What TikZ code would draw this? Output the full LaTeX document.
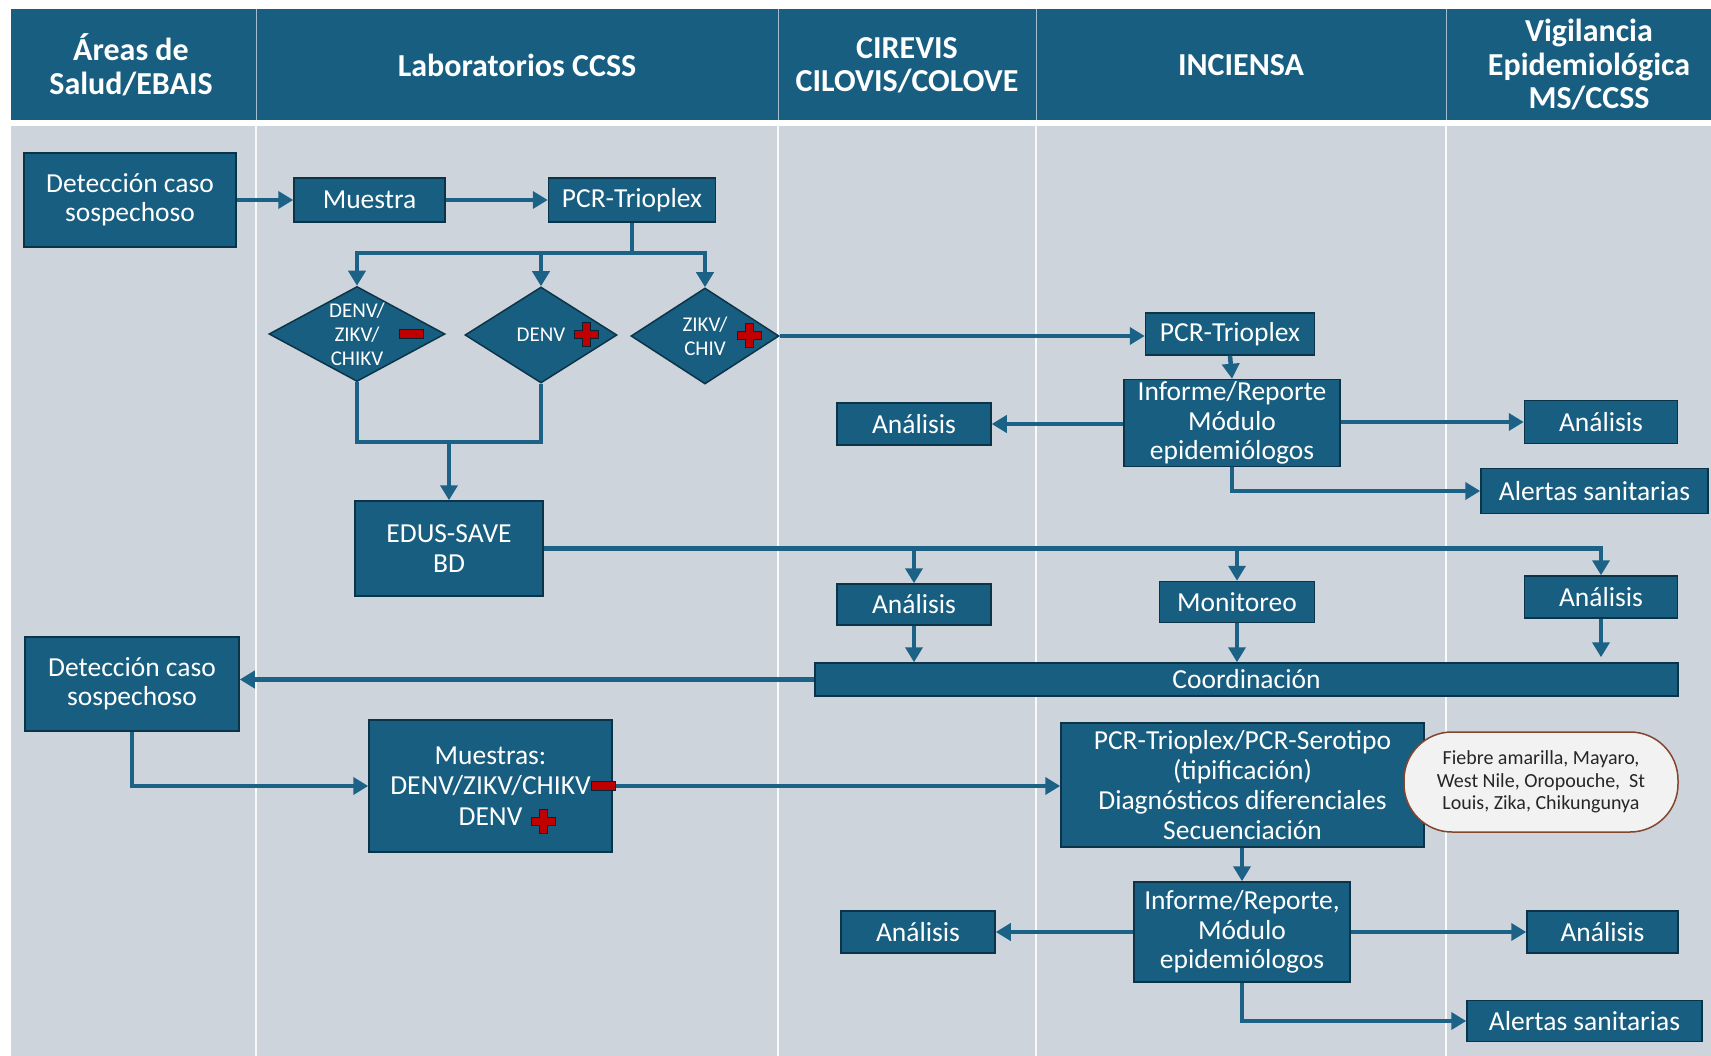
\documentclass[tikz,border=0pt]{standalone}
\usepackage{fontspec}
\setmainfont{Carlito}
\usetikzlibrary{shapes.geometric,arrows.meta}
\definecolor{hdr}{RGB}{23,94,128}
\definecolor{boxc}{RGB}{23,94,128}
\definecolor{bord}{RGB}{12,52,72}
\definecolor{bodyc}{RGB}{206,212,219}
\definecolor{arrc}{RGB}{28,98,134}
\definecolor{redc}{RGB}{192,0,0}
\definecolor{callb}{RGB}{130,70,45}
\begin{document}
\begin{tikzpicture}[x=1pt,y=-1pt,
 box/.style={draw=bord, line width=1.5pt, fill=boxc, text=white, align=center, inner sep=0pt, font=\fontsize{27.5}{29.5}\selectfont},
 hd/.style={text=white, align=center, inner sep=0pt, font=\bfseries\fontsize{32}{33.5}\selectfont},
 ln/.style={draw=arrc, line width=4.5pt},
 arr/.style={ln, -{Triangle[length=15pt,width=17pt]}},
 dia/.style={diamond, draw=bord, line width=1.5pt, fill=boxc, inner sep=0pt},
 dtxt/.style={text=white, align=center, font=\fontsize{21}{24}\selectfont, inner sep=0pt},
 pics/rplus/.style={code={\filldraw[fill=redc, draw=bord!70!black, line width=1pt] (-12,-4)--(-4,-4)--(-4,-12)--(4,-12)--(4,-4)--(12,-4)--(12,4)--(4,4)--(4,12)--(-4,12)--(-4,4)--(-12,4)--cycle;}},
 pics/rminus/.style={code={\filldraw[fill=redc, draw=bord!70!black, line width=1pt] (-12,-4.5) rectangle (12,4.5);}}
]
\useasboundingbox (0,0) rectangle (1711,1056);
\fill[white] (0,0) rectangle (1711,1056);
% header
\fill[hdr] (11,9) rectangle (1711,120);
\foreach \xx in {256,778,1036,1446} \draw[white!60!hdr, line width=1pt] (\xx,9) -- (\xx,120);
\fill[bodyc] (11,126) rectangle (1711,1056);
\foreach \xx in {256,778,1036,1446} \draw[white!85!bodyc, line width=2pt] (\xx,126) -- (\xx,1056);
\node[hd] (h1) at (131,65) {Áreas de\\Salud/EBAIS};
\node[hd] (h2) at (517,65) {Laboratorios CCSS};
\node[hd] (h3) at (907,65) {CIREVIS\\CILOVIS/COLOVE};
\node[hd] (h4) at (1241,65) {INCIENSA};
\node[hd] (h5) at (1589,65) {Vigilancia\\Epidemiológica\\MS/CCSS};

% top flow
\node[box, minimum width=212pt, minimum height=94pt] (det1) at (130,200) {Detección caso\\sospechoso};
\node[box, minimum width=151pt, minimum height=44pt] (mue1) at (369.5,200) {Muestra};
\node[box, minimum width=167pt, minimum height=44pt] (pcr1) at (632,200) {PCR-Trioplex};
\draw[arr] (det1.east) -- (mue1.west);
\draw[arr] (mue1.east) -- (pcr1.west);

\node[dia, minimum width=176pt, minimum height=95pt] (d1) at (357,334) {};
\node[dia, minimum width=152pt, minimum height=96pt] (d2) at (541,335) {};
\node[dia, minimum width=148pt, minimum height=96pt] (d3) at (705,336) {};
\node[dtxt] (t1) at (d1) {DENV/\\ZIKV/\\CHIKV};
\node[dtxt] (t2) at (d2) {DENV};
\node[dtxt] (t3) at (d3) {ZIKV/\\CHIV};
\pic at (411,334) {rminus};
\pic at (586,335) {rplus};
\pic at (749,336) {rplus};

\coordinate (br) at (632,253);
\draw[ln] (pcr1.south) -- (br);
\draw[arr] (br) -| (d1.north);
\draw[arr] (br) -| (d3.north);
\draw[arr] (d2.north |- br) -- (d2.north);

\node[box, minimum width=169pt, minimum height=42pt] (pcr2) at (1230,334) {PCR-Trioplex};
\draw[arr] (d3.east) -- (d3.east -| pcr2.west);
\node[box, minimum width=216pt, minimum height=87pt] (inf1) at (1232,423) {Informe/Reporte\\Módulo\\epidemiólogos};
\draw[arr] (pcr2.south) -- (inf1.north);
\node[box, minimum width=154pt, minimum height=42pt] (an1) at (914,424) {Análisis};
\node[box, minimum width=153pt, minimum height=43pt] (an2) at (1601,422) {Análisis};
\node[box, minimum width=227pt, minimum height=45pt] (al1) at (1594.5,491) {Alertas sanitarias};
\draw[arr] (inf1.west |- an1) -- (an1.east);
\draw[arr] (inf1.east |- an2) -- (an2.west);
\draw[arr] (inf1.south) |- (al1.west);

% EDUS
\node[box, minimum width=188pt, minimum height=95pt] (edus) at (449,548.5) {EDUS-SAVE\\BD};
\coordinate (jn) at (449,442);
\draw[ln] (d1.south) |- (jn);
\draw[ln] (d2.south) |- (jn);
\draw[arr] (jn) -- (edus.north);

\node[box, minimum width=154pt, minimum height=41pt] (an3) at (914,604.5) {Análisis};
\node[box, minimum width=155pt, minimum height=41pt] (mon) at (1237,602) {Monitoreo};
\node[box, minimum width=153pt, minimum height=42pt] (an4) at (1601,597) {Análisis};
\draw[arr] (edus.east) -| (an4.north);
\draw[arr] (edus.east -| an3.north) -- (an3.north);
\draw[arr] (edus.east -| mon.north) -- (mon.north);

\node[box, minimum width=863pt, minimum height=33pt] (coord) at (1246.5,679.5) {Coordinación};
\draw[arr] (an3.south) -- (an3.south |- coord.north);
\draw[arr] (mon.south) -- (mon.south |- coord.north);
\draw[arr, shorten >=5pt] (an4.south) -- (an4.south |- coord.north);

\node[box, minimum width=214pt, minimum height=94pt] (det2) at (132,684) {Detección caso\\sospechoso};
\draw[arr] (coord.west) -- (coord.west -| det2.east);

% lower flow
\node[box, minimum width=243pt, minimum height=132pt, font=\fontsize{27.5}{30.5}\selectfont] (mu) at (490.5,786) {Muestras:\\DENV/ZIKV/CHIKV\\DENV};
\draw[arr] (det2.south) |- (mu.west);
\node[box, minimum width=363pt, minimum height=124pt, font=\fontsize{27.5}{30}\selectfont] (pcr3) at (1242.5,785) {PCR-Trioplex/PCR-Serotipo\\(tipificación)\\Diagnósticos diferenciales\\Secuenciación};
\draw[arr] (mu.east) -- (mu.east -| pcr3.west);
\pic at (603,786) {rminus};
\pic at (543,821) {rplus};
\node[draw=callb, line width=1.5pt, fill=black!5, rounded corners=48pt, minimum width=274pt, minimum height=100pt, inner sep=0pt, align=center, font=\fontsize{20}{22.4}\selectfont, text=black!85] (call) at (1541,782) {Fiebre amarilla, Mayaro,\\West Nile, Oropouche,\ \ St\\Louis, Zika, Chikungunya};

\node[box, minimum width=216pt, minimum height=100pt] (inf2) at (1242,932) {Informe/Reporte,\\Módulo\\epidemiólogos};
\draw[arr] (pcr3.south -| inf2.north) -- (inf2.north);
\node[box, minimum width=154pt, minimum height=42pt] (an5) at (918,932) {Análisis};
\node[box, minimum width=151pt, minimum height=42pt] (an6) at (1602.5,932) {Análisis};
\node[box, minimum width=235pt, minimum height=41pt] (al2) at (1584.5,1021) {Alertas sanitarias};
\draw[arr] (inf2.west) -- (an5.east);
\draw[arr] (inf2.east) -- (an6.west);
\draw[arr] (inf2.south) |- (al2.west);
\end{tikzpicture}
\end{document}
